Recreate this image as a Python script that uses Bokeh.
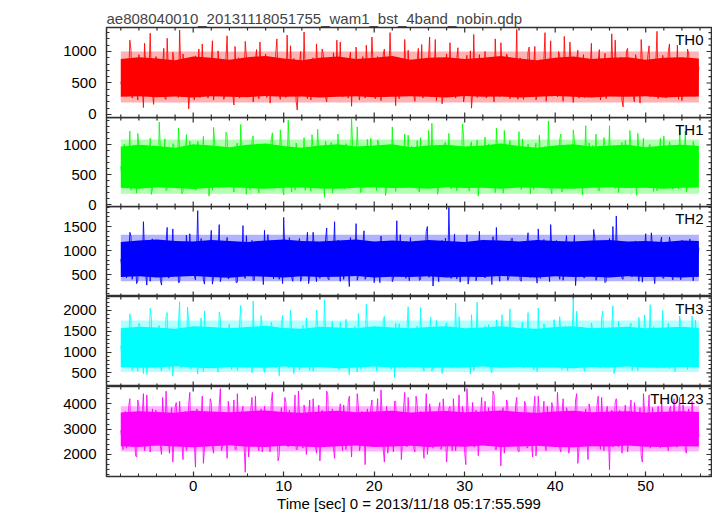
import math
import numpy as np
from bokeh.plotting import figure
from bokeh.layouts import column
from bokeh.models import Range1d, FixedTicker, LinearAxis, Label
from bokeh.embed import file_html
from bokeh.resources import INLINE

title_text = "ae808040010_20131118051755_wam1_bst_4band_nobin.qdp"
x_label = "Time [sec] 0 = 2013/11/18 05:17:55.599"
y_label = "Counts/sec"
bands = ["TH0", "TH1", "TH2", "TH3", "TH0123"]
colors = ["#ff0000", "#00ff00", "#0000ff", "#00ffff", "#ff00ff"]

# light curve samples: "*" at t_start + k*t_bin, "*_mid" half a bin later
t_start = -8.0
t_bin = 0.25

th0 = [
    520, 310, 840, 450, 1180, 260, 690, 380, 950, 540, 110, 760, 430, 1290, 350, 620,
    880, 300, 560, 1050, 240, 710, 470, 990, 330, 640, 1340, 280, 530, 820, 90, 660,
    410, 930, 580, 270, 1120, 480, 720, 350, 860, 230, 600, 1010, 390, 680, 300, 1250,
    460, 780, 150, 570, 900, 340, 650, 1160, 290, 510, 830, 420, 1030, 250, 700, 380,
    960, 530, 180, 740, 440, 1200, 320, 610, 870, 270, 560, 1090, 400, 690, 70, 810,
    500, 1310, 360, 620, 230, 900, 470, 760, 310, 1040, 550, 200, 680, 420, 980, 330,
    590, 1150, 280, 730, 450, 860, 130, 640, 1070, 370, 520, 920, 260, 710, 490, 1230,
    340, 600, 810, 220, 950, 430, 680, 1300, 300, 560, 770, 250, 880, 470, 620, 1020,
    380, 700, 210, 850, 540, 1110, 330, 640, 900, 280, 490, 1190, 420, 730, 170, 610,
    960, 350, 560, 820, 260, 1060, 480, 690, 310, 940, 580, 100, 1270, 440, 750, 360,
    620, 1000, 290, 540, 870, 200, 710, 460, 1140, 330, 600, 910, 250, 680, 430, 1350,
    510, 780, 240, 650, 990, 370, 560, 1080, 300, 720, 450, 860, 210, 610, 1170, 390,
    700, 280, 930, 520, 1240, 340, 630, 810, 190, 570, 1020, 410, 740, 270, 890, 480,
    1130, 320, 600, 840, 230, 690, 970, 380, 540, 1280, 300, 660, 450, 910, 120, 580,
    1050, 420, 760, 200, 870, 530, 1190, 350, 620, 950, 280, 710, 470, 1320, 390, 580,
    830, 260, 1000, 490, 670, 310, 1100, 560, 220, 790, 430, 960, 340, 640, 880, 500,
]
th0_mid = [
    430, 870, 290, 660, 1020, 350, 580, 230, 790, 470, 1130, 320, 690, 540, 160, 920,
    610, 380, 760, 250, 1210, 490, 330, 850, 560, 270, 720, 960, 410, 640, 350, 880,
    230, 700, 1040, 380, 520, 890, 260, 610, 1170, 440, 310, 780, 560, 240, 920, 470,
    680, 330, 1080, 410, 260, 740, 520, 930, 370, 620, 200, 870, 480, 1150, 320, 590,
    270, 810, 640, 360, 980, 550, 240, 720, 450, 1260, 330, 670, 890, 210, 580, 1000,
    420, 690, 250, 870, 560, 330, 1120, 410, 640, 950, 280, 500, 780, 350, 610, 1180,
    460, 320, 870, 560, 260, 990, 700, 390, 580, 230, 830, 470, 1100, 330, 640, 800,
    250, 920, 530, 380, 1040, 290, 600, 770, 440, 140, 860, 590, 340, 1190, 480, 690,
    820, 300, 570, 1050, 400, 260, 760, 510, 1230, 360, 640, 220, 900, 570, 330, 780,
    480, 1140, 310, 650, 890, 380, 540, 200, 830, 610, 1010, 350, 560, 270, 950, 460,
    730, 260, 880, 470, 350, 1200, 590, 280, 760, 420, 960, 530, 300, 820, 640, 240,
    900, 410, 650, 310, 1070, 500, 760, 230, 590, 870, 360, 1300, 450, 680, 290, 830,
    350, 1000, 480, 210, 790, 600, 1150, 370, 480, 880, 260, 640, 950, 330, 560, 760,
    280, 860, 520, 1030, 380, 620, 250, 830, 470, 690, 1180, 340, 560, 230, 800, 1010,
    390, 640, 290, 950, 540, 180, 870, 460, 730, 1090, 320, 590, 840, 250, 680, 940,
    370, 580, 1120, 300, 760, 520, 240, 890, 610, 370, 1040, 480, 700, 290, 560, 760,
]

th1 = [
    640, 280, 910, 470, 1230, 350, 720, 190, 980, 560, 310, 830, 430, 1110, 260, 690,
    520, 1380, 340, 760, 230, 880, 450, 1020, 300, 610, 940, 180, 700, 1170, 390, 580,
    850, 240, 1060, 500, 730, 320, 990, 140, 620, 1290, 410, 770, 280, 900, 530, 1150,
    360, 680, 210, 940, 570, 1340, 300, 650, 820, 250, 1080, 460, 710, 190, 880, 420,
    1000, 330, 590, 1200, 270, 760, 510, 960, 160, 640, 1410, 380, 700, 240, 850, 550,
    310, 1120, 480, 790, 220, 930, 600, 1260, 350, 680, 120, 870, 440, 1040, 290, 620,
    1180, 400, 720, 260, 990, 530, 1450, 300, 660, 840, 200, 750, 470, 1090, 340, 580,
    910, 230, 1020, 460, 700, 150, 860, 590, 1300, 370, 640, 960, 280, 740, 500, 1160,
    320, 810, 570, 1070, 210, 690, 940, 410, 1240, 300, 620, 880, 170, 730, 480, 1010,
    380, 1190, 260, 770, 540, 920, 330, 1350, 450, 680, 230, 1050, 510, 790, 140, 860,
    620, 1130, 290, 710, 970, 360, 1280, 440, 600, 190, 900, 560, 1070, 310, 750, 480,
    1220, 250, 830, 540, 1010, 180, 680, 940, 400, 1160, 320, 740, 600, 1400, 270, 650,
    880, 430, 1090, 210, 720, 510, 960, 350, 1250, 280, 630, 850, 160, 780, 470, 1030,
    340, 690, 1180, 240, 810, 560, 990, 390, 1320, 300, 620, 920, 200, 740, 450, 1070,
    570, 1240, 330, 800, 150, 900, 480, 1110, 290, 680, 1000, 410, 760, 230, 870, 540,
    1150, 310, 720, 960, 260, 840, 500, 1290, 370, 650, 210, 910, 440, 1060, 330, 700,
]
th1_mid = [
    450, 1010, 330, 760, 240, 880, 560, 1190, 380, 700, 290, 950, 520, 170, 820, 640,
    300, 910, 580, 1100, 260, 730, 470, 990, 350, 1280, 620, 220, 840, 500, 1060, 380,
    710, 270, 960, 540, 1140, 330, 800, 610, 240, 1020, 450, 870, 310, 690, 1210, 520,
    880, 410, 620, 1030, 290, 760, 480, 170, 930, 570, 1150, 350, 720, 980, 260, 640,
    430, 860, 1090, 320, 690, 540, 1250, 280, 780, 450, 940, 210, 660, 1030, 380, 820,
    580, 240, 970, 440, 1170, 350, 720, 890, 270, 610, 1060, 480, 800, 190, 930, 520,
    360, 830, 560, 1020, 290, 680, 950, 410, 1300, 550, 230, 870, 640, 340, 1110, 470,
    720, 1080, 340, 590, 880, 260, 1000, 450, 740, 220, 960, 610, 370, 1180, 530, 810,
    980, 420, 660, 250, 1120, 530, 770, 320, 900, 1360, 470, 690, 280, 840, 580, 1040,
    300, 750, 970, 460, 230, 880, 610, 1150, 390, 720, 980, 310, 590, 1080, 420, 660,
    840, 350, 1010, 540, 770, 200, 930, 480, 680, 1240, 360, 820, 560, 290, 960, 630,
    410, 1100, 300, 700, 880, 470, 250, 1030, 590, 810, 340, 970, 520, 730, 180, 890,
    620, 330, 1180, 490, 760, 270, 960, 580, 1070, 350, 690, 910, 440, 1320, 290, 750,
    990, 420, 640, 230, 870, 1120, 380, 700, 520, 950, 270, 810, 610, 1040, 360, 560,
    280, 930, 720, 400, 1190, 550, 830, 310, 650, 1000, 460, 220, 880, 580, 1110, 390,
    760, 500, 1050, 340, 680, 920, 260, 790, 560, 1230, 420, 700, 300, 960, 540, 820,
]

th2 = [
    820, 450, 1120, 600, 1380, 400, 930, 310, 1050, 680, 1600, 500, 870, 360, 1240, 720,
    520, 990, 280, 840, 1170, 430, 760, 1450, 550, 920, 340, 1090, 640, 1320, 470, 800,
    1010, 390, 1830, 580, 880, 300, 1160, 690, 1420, 460, 830, 1020, 350, 940, 610, 1270,
    440, 780, 1090, 330, 960, 550, 1520, 420, 870, 700, 1210, 380, 820, 600, 1060, 290,
    730, 1330, 480, 910, 640, 1150, 400, 850, 1690, 520, 770, 1030, 360, 950, 560, 1250,
    450, 820, 1100, 310, 760, 1380, 570, 900, 420, 1040, 680, 1470, 390, 810, 990, 540,
    1220, 360, 870, 620, 1080, 250, 940, 720, 1560, 480, 830, 1130, 400, 760, 990, 580,
    330, 1040, 690, 1300, 470, 880, 600, 1180, 350, 910, 1620, 530, 790, 1000, 420, 860,
    1270, 510, 740, 970, 380, 1110, 640, 1400, 450, 820, 260, 1060, 580, 930, 1210, 490,
    780, 1900, 420, 890, 660, 1140, 340, 970, 560, 1330, 480, 800, 1050, 370, 910, 640,
    1190, 430, 860, 1000, 290, 770, 1480, 550, 920, 640, 1120, 380, 830, 1260, 500, 710,
    960, 360, 1090, 610, 1370, 440, 800, 1010, 320, 940, 700, 1230, 470, 860, 1540, 560,
    750, 1080, 400, 890, 650, 1310, 480, 820, 1020, 270, 960, 590, 1180, 430, 780, 1100,
    520, 1440, 380, 900, 690, 1060, 330, 840, 1250, 470, 760, 1720, 560, 910, 400, 1030,
    640, 1170, 450, 830, 1000, 360, 920, 600, 1350, 480, 780, 1090, 310, 870, 690, 1280,
    420, 950, 720, 1140, 390, 840, 1020, 560, 1210, 460, 880, 650, 1070, 370, 920, 780,
]
th2_mid = [
    640, 1050, 430, 900, 1300, 520, 760, 370, 1140, 610, 980, 280, 850, 1220, 490, 720,
    1090, 380, 820, 570, 1480, 440, 930, 690, 1160, 330, 790, 1020, 510, 870, 1350, 600,
    470, 960, 720, 1250, 390, 840, 580, 1110, 300, 920, 650, 1540, 480, 780, 1010, 410,
    1180, 560, 890, 340, 1060, 730, 460, 1310, 620, 950, 380, 830, 1190, 540, 700, 1420,
    500, 870, 1120, 410, 760, 1030, 580, 310, 990, 660, 1270, 450, 820, 590, 1150, 360,
    910, 620, 1380, 470, 800, 1090, 350, 720, 1000, 540, 1230, 420, 880, 670, 1600, 490,
    760, 1130, 400, 940, 610, 1270, 500, 830, 380, 1050, 720, 1410, 460, 890, 580, 1160,
    640, 990, 330, 860, 1190, 520, 750, 1080, 420, 900, 610, 1330, 480, 780, 1020, 370,
    880, 540, 1200, 690, 400, 1060, 780, 1500, 450, 930, 620, 1110, 350, 840, 700, 1260,
    520, 960, 720, 1340, 410, 810, 1070, 580, 890, 300, 1180, 650, 950, 480, 1400, 730,
    600, 1020, 470, 880, 1290, 550, 760, 360, 1110, 690, 970, 430, 1230, 580, 840, 1060,
    390, 910, 650, 1170, 480, 790, 1030, 560, 1450, 420, 870, 680, 1120, 350, 990, 760,
    1210, 540, 830, 380, 1090, 700, 960, 470, 1320, 610, 880, 1150, 440, 780, 560, 1040,
    680, 1260, 450, 900, 620, 1080, 360, 970, 730, 1500, 510, 820, 1010, 420, 940, 640,
    1130, 480, 860, 1200, 570, 750, 340, 1050, 660, 920, 1370, 500, 800, 620, 1160, 430,
    890, 600, 1280, 470, 970, 710, 1100, 390, 850, 1030, 560, 1240, 680, 900, 450, 1060,
]

th3 = [
    1150, 620, 1580, 850, 1920, 560, 1320, 720, 1700, 980, 480, 1450, 800, 2050, 660, 1230,
    900, 1640, 540, 1180, 1860, 700, 1370, 420, 1520, 1010, 2210, 680, 1260, 830, 1730, 590,
    1080, 1490, 470, 1290, 920, 1990, 630, 1160, 1580, 760, 1340, 520, 1810, 970, 1220, 690,
    1670, 580, 1100, 1420, 800, 2120, 650, 1250, 940, 1600, 500, 1180, 1470, 760, 1880, 610,
    1030, 1390, 700, 1560, 880, 1240, 430, 1700, 990, 1350, 620, 2000, 840, 1150, 1530, 570,
    1290, 760, 1820, 940, 1410, 540, 1130, 1640, 690, 1280, 2260, 810, 1060, 1490, 610, 1350,
    890, 1720, 650, 1200, 1530, 450, 1090, 1380, 780, 1930, 600, 1270, 1010, 1600, 720, 1160,
    1470, 550, 1240, 910, 1780, 680, 1330, 1050, 1550, 390, 1190, 1680, 830, 1400, 640, 2090,
    970, 1310, 720, 1620, 880, 1200, 540, 1450, 1070, 1840, 660, 1290, 950, 1570, 480, 1130,
    1710, 790, 1260, 1020, 2180, 610, 1360, 870, 1510, 700, 1170, 1900, 560, 1250, 990, 1440,
    730, 1620, 1040, 1380, 500, 1210, 1770, 820, 1320, 640, 1490, 1100, 2040, 690, 1160, 1420,
    860, 1540, 620, 1260, 1950, 750, 1080, 1410, 530, 1300, 900, 1680, 720, 1190, 1560, 640,
    1370, 980, 1850, 580, 1230, 1480, 800, 1110, 2300, 670, 1340, 960, 1600, 540, 1270, 1090,
    1700, 740, 1180, 1450, 620, 1990, 870, 1300, 1050, 1560, 480, 1220, 1740, 810, 1370, 700,
    1160, 1620, 560, 1280, 940, 1830, 680, 1210, 1480, 760, 2140, 900, 1330, 610, 1570, 1020,
    1250, 700, 1690, 1080, 1400, 530, 1190, 1860, 770, 1350, 990, 1520, 640, 1260, 1770, 910,
]
th3_mid = [
    860, 1480, 640, 1250, 1740, 720, 1100, 540, 1620, 930, 1360, 460, 1190, 1840, 780, 1300,
    1560, 650, 1210, 990, 1950, 580, 1380, 820, 1150, 1700, 610, 1280, 920, 2080, 700, 1170,
    1440, 760, 1050, 1820, 530, 1230, 960, 1590, 690, 1340, 1080, 1960, 600, 1270, 850, 1510,
    740, 1400, 1130, 560, 1690, 880, 1310, 640, 1480, 1010, 2230, 720, 1200, 940, 1600, 510,
    1320, 830, 1720, 1040, 620, 1430, 1150, 1880, 690, 1260, 930, 1550, 480, 1180, 1390, 760,
    1640, 930, 1240, 560, 1510, 1090, 2010, 710, 1330, 860, 1470, 640, 1200, 1740, 900, 1120,
    580, 1380, 1020, 1790, 740, 1280, 950, 1620, 520, 1160, 1450, 830, 2150, 690, 1230, 1010,
    1500, 790, 1300, 670, 1860, 1060, 1380, 590, 1210, 1690, 870, 1430, 1100, 620, 1570, 950,
    1270, 700, 1540, 1010, 2070, 640, 1320, 890, 1480, 540, 1180, 1760, 820, 1360, 1050, 1630,
    900, 1450, 620, 1290, 1080, 1850, 730, 1240, 960, 1580, 470, 1340, 1020, 2200, 800, 1190,
    1400, 850, 1660, 580, 1230, 990, 1510, 700, 1900, 1120, 640, 1370, 920, 1600, 760, 1280,
    1070, 1720, 680, 1350, 900, 1480, 570, 1260, 2060, 810, 1190, 1550, 650, 1310, 1000, 1780,
    720, 1240, 1460, 860, 1630, 550, 1170, 1390, 780, 1980, 930, 1300, 620, 1490, 1110, 840,
    1560, 970, 1280, 640, 1820, 1060, 730, 1420, 1190, 2110, 600, 1250, 880, 1540, 710, 1360,
    1020, 1700, 790, 1330, 560, 1470, 1150, 1890, 680, 1260, 970, 1610, 740, 1390, 1090, 2000,
    850, 1320, 600, 1560, 1010, 1280, 720, 1690, 940, 1410, 580, 1230, 1870, 830, 1350, 1000,
]

th0123 = [
    2950, 2200, 3700, 2500, 4200, 2300, 3300, 1900, 3900, 2700, 4400, 2400, 3100, 2100, 3800, 2800,
    2350, 3600, 2000, 3250, 4500, 2600, 3450, 1700, 3850, 2750, 4100, 2450, 3350, 2150, 3950, 2550,
    3150, 1500, 3750, 2650, 4300, 2250, 3550, 2900, 4050, 2050, 3400, 2700, 4600, 2350, 3200, 1850,
    3650, 2500, 4150, 2200, 3300, 2800, 3900, 1300, 3500, 2600, 4250, 2400, 3050, 2150, 3800, 2750,
    2450, 3700, 2100, 4450, 2650, 3350, 1950, 3850, 2850, 4050, 2300, 3250, 2550, 4350, 2200, 3450,
    2700, 3950, 2000, 3550, 2500, 4200, 2350, 3150, 1750, 3750, 2900, 4500, 2450, 3400, 2250, 3650,
    2800, 4000, 2150, 3300, 2600, 4300, 1900, 3600, 2700, 3900, 2400, 3200, 1600, 3800, 2550, 4150,
    2300, 3450, 2750, 4550, 2200, 3350, 2050, 3700, 2650, 4100, 2450, 3250, 1800, 3850, 2900, 4250,
    2400, 3550, 2100, 3950, 2700, 3300, 1850, 4400, 2550, 3650, 2250, 3150, 2800, 4050, 2350, 3500,
    1700, 3800, 2600, 4200, 2150, 3400, 2750, 3900, 2050, 4600, 2500, 3250, 2300, 3750, 1950, 3600,
    2850, 4100, 2400, 3350, 2650, 4350, 2200, 3500, 1550, 3850, 2700, 4000, 2350, 3200, 2550, 4250,
    2100, 3650, 2800, 3950, 2300, 3400, 1900, 4300, 2600, 3550, 2450, 4100, 2150, 3300, 2750, 3800,
    2500, 4450, 2250, 3600, 2900, 3850, 2050, 3450, 2650, 4150, 1650, 3700, 2400, 3250, 2800, 4000,
    2350, 3550, 2700, 4300, 2200, 3350, 2550, 3900, 1400, 3750, 2850, 4200, 2300, 3450, 2600, 3950,
    2100, 3700, 2750, 4050, 2450, 3300, 1950, 4400, 2650, 3600, 2250, 3850, 2900, 3250, 2400, 4150,
    2550, 3500, 2150, 3900, 2800, 3400, 2300, 4250, 2600, 3650, 2050, 3800, 2700, 3350, 2450, 3600,
]
th0123_mid = [
    2600, 3450, 2250, 3900, 2750, 3200, 1950, 4150, 2500, 3600, 2150, 4350, 2850, 3300, 2400, 3750,
    3050, 2300, 4250, 2700, 3500, 2050, 3850, 2550, 4050, 2900, 3350, 1800, 3700, 2450, 4450, 2800,
    2400, 3800, 2950, 3350, 1650, 3650, 2650, 4200, 2300, 3500, 2800, 3950, 2150, 3250, 2700, 4100,
    2900, 3400, 2200, 4400, 2600, 3700, 2350, 3150, 1900, 3850, 2750, 4300, 2450, 3550, 2100, 3900,
    3250, 2500, 4100, 2800, 3600, 1750, 3450, 2650, 4250, 2350, 3750, 2950, 3300, 2200, 4500, 2600,
    2250, 3650, 2850, 4150, 2400, 3350, 2050, 3950, 2700, 3500, 2300, 4350, 2550, 3800, 1850, 3400,
    3500, 2650, 3950, 2200, 4050, 2800, 3250, 2450, 4400, 2150, 3700, 2900, 3400, 2350, 3850, 2600,
    2750, 4200, 2400, 3550, 1700, 3900, 2650, 3300, 2100, 4100, 2850, 3600, 2500, 4450, 2300, 3450,
    3150, 2250, 4300, 2800, 3700, 2450, 3250, 2000, 4000, 2600, 3450, 2950, 3800, 2200, 4200, 2700,
    2500, 3900, 2150, 3350, 2850, 4350, 2400, 3600, 1600, 3750, 2700, 4050, 2300, 3500, 2650, 4250,
    3000, 2350, 3850, 2600, 4500, 2200, 3400, 2900, 3700, 2050, 4150, 2550, 3300, 2800, 3950, 2150,
    3600, 2700, 4100, 2250, 3450, 2500, 3800, 1950, 4300, 2850, 3350, 2400, 3900, 2650, 4050, 2300,
    2800, 3550, 2100, 4200, 2600, 3650, 2350, 3250, 2950, 4400, 2200, 3500, 2750, 3800, 1800, 3700,
    3300, 2450, 3950, 2700, 4250, 2150, 3600, 2850, 3400, 2300, 4050, 2600, 3750, 2050, 3450, 2900,
    2550, 4150, 2350, 3550, 2800, 3850, 1700, 3650, 2650, 4350, 2450, 3300, 2900, 3900, 2250, 3500,
    3100, 2400, 3800, 2750, 4200, 2300, 3550, 2600, 3950, 2150, 3400, 2850, 4100, 2500, 3650, 2700,
]

# densely over-plotted core of each curve (lower / upper edge), read every core_step seconds
core_step = 2.0
core_lo_th0 = [280, 290, 275, 285, 270, 290, 280, 275, 295, 280, 285, 270, 280, 290, 275, 280,
               290, 280, 270, 295, 280, 285, 270, 280, 295, 280, 270, 285, 280, 290, 270, 280, 285]
core_hi_th0 = [880, 910, 890, 860, 920, 900, 870, 910, 930, 890, 860, 900, 920, 880, 900, 930,
               870, 900, 910, 880, 900, 930, 890, 860, 900, 920, 880, 900, 910, 870, 900, 910, 890]
core_lo_th1 = [280, 265, 290, 275, 260, 280, 290, 275, 265, 280, 285, 270, 265, 280, 290, 275,
               280, 265, 290, 275, 280, 265, 285, 280, 270, 265, 280, 290, 275, 280, 265, 280, 285]
core_hi_th1 = [970, 1000, 980, 950, 1010, 990, 960, 1000, 1020, 980, 950, 990, 1010, 970, 990, 1010,
               960, 990, 1000, 970, 990, 1020, 980, 950, 990, 1010, 970, 990, 1000, 960, 990, 1000, 980]
core_lo_th2 = [450, 465, 440, 455, 470, 450, 435, 465, 455, 440, 465, 450, 455, 470, 440, 455,
               450, 465, 440, 455, 450, 470, 455, 440, 465, 450, 455, 440, 465, 450, 455, 440, 455]
core_hi_th2 = [1180, 1210, 1230, 1200, 1190, 1220, 1200, 1180, 1210, 1230, 1200, 1190, 1210, 1230, 1190, 1210,
               1190, 1220, 1200, 1180, 1220, 1210, 1190, 1220, 1200, 1190, 1210, 1220, 1190, 1200, 1180, 1210, 1200]
core_lo_th3 = [640, 620, 630, 655, 625, 610, 640, 630, 620, 650, 625, 640, 610, 630, 650, 625,
               640, 620, 630, 625, 650, 620, 640, 625, 630, 610, 640, 625, 650, 630, 620, 640, 630]
core_hi_th3 = [1570, 1610, 1590, 1560, 1620, 1600, 1570, 1600, 1630, 1580, 1560, 1610, 1590, 1570, 1620, 1590,
               1570, 1600, 1620, 1570, 1590, 1620, 1580, 1560, 1600, 1620, 1570, 1590, 1610, 1570, 1590, 1610, 1580]
core_lo_th0123 = [2330, 2300, 2350, 2320, 2290, 2330, 2360, 2310, 2300, 2340, 2320, 2290, 2330, 2350, 2300, 2320,
                  2340, 2300, 2330, 2310, 2350, 2300, 2320, 2340, 2300, 2290, 2330, 2320, 2350, 2310, 2300, 2330, 2320]
core_hi_th0123 = [3660, 3710, 3680, 3650, 3730, 3700, 3670, 3710, 3740, 3680, 3650, 3700, 3730, 3670, 3700, 3730,
                  3660, 3700, 3720, 3670, 3700, 3740, 3680, 3650, 3700, 3730, 3670, 3700, 3710, 3660, 3690, 3710, 3680]

# thinner, partly covered fringe around the core (lower, upper)
fringe = [(190, 1000), (180, 1090), (360, 1330), (520, 1760), (2120, 3900)]

series = [(th0, th0_mid), (th1, th1_mid), (th2, th2_mid), (th3, th3_mid), (th0123, th0123_mid)]
cores = [(core_lo_th0, core_hi_th0), (core_lo_th1, core_hi_th1), (core_lo_th2, core_hi_th2),
         (core_lo_th3, core_hi_th3), (core_lo_th0123, core_hi_th0123)]
y_ranges = [(-48, 1381), (-33, 1457), (42, 1917), (170, 2337), (1132, 4682)]
y_major_ticks = [[0, 500, 1000], [0, 500, 1000], [500, 1000, 1500],
                 [500, 1000, 1500, 2000], [2000, 3000, 4000]]
y_minor_steps = [100, 100, 100, 100, 200]
x_range_vals = (-9.58, 57.27)
x_major_ticks = [0, 10, 20, 30, 40, 50]
x_minor_step = 2

FONT = "Liberation Sans"
FRAME_COLOR = "#303030"
frame_heights = [90, 89, 90, 90, 90]
FRAME_W = 605
SPILL = 7          # room under panels whose lowest tick label sits on the bottom edge


def minor_list(lo, hi, step, majors):
    start = math.ceil(lo / step) * step
    return [float(v) for v in np.arange(start, hi, step) if not any(abs(v - m) < 1e-9 for m in majors)]


x_minor_ticks = minor_list(x_range_vals[0], x_range_vals[1], x_minor_step, x_major_ticks)

xr = Range1d(*x_range_vals)
figs = []
n = len(series)
spills = []
for i in range(n):
    lo, hi = y_ranges[i]
    px_per_unit = frame_heights[i] / (hi - lo)
    low_label_px = (min(y_major_ticks[i]) - lo) * px_per_unit
    spills.append(i < n - 1 and low_label_px < 9)

for i in range(n):
    a, b = series[i]
    m_len = min(len(a), len(b))
    va = np.array(a[:m_len], dtype=float)
    vb = np.array(b[:m_len], dtype=float)
    ta = t_start + t_bin * np.arange(m_len)
    tb = ta + t_bin / 2
    t = np.column_stack([ta, tb]).ravel()
    vals = np.column_stack([va, vb]).ravel()
    c_len = min(len(cores[i][0]), len(cores[i][1]))
    c_lo = np.array(cores[i][0][:c_len], dtype=float)
    c_hi = np.array(cores[i][1][:c_len], dtype=float)
    tc = np.minimum(t_start + core_step * np.arange(c_len), t[-1])
    last = (i == n - 1)
    first = (i == 0)
    lo, hi = y_ranges[i]
    majors = y_major_ticks[i]
    minors = minor_list(lo, hi, y_minor_steps[i], majors)
    p = figure(
        frame_width=FRAME_W, frame_height=frame_heights[i],
        x_range=xr, y_range=Range1d(lo, hi),
        output_backend="svg", toolbar_location=None,
        x_axis_location=None, y_axis_location=None,
        min_border_left=106, min_border_right=1,
        min_border_top=27 if first else 0,
        min_border_bottom=SPILL if spills[i] else 0,
        title=title_text if first else None,
        background_fill_color=None, border_fill_color=None,
    )
    if i > 0 and spills[i - 1]:
        p.margin = (-SPILL, 0, 0, 0)
    if first:
        p.title.text_font = FONT
        p.title.text_font_size = "15px"
        p.title.text_font_style = "normal"
        p.title.align = "left"
        p.title.standoff = 2
        p.title.offset = 0
    p.xgrid.visible = False
    p.ygrid.visible = False
    p.outline_line_color = FRAME_COLOR
    p.outline_line_width = 1.5
    p.outline_line_alpha = 1.0

    yl = LinearAxis(ticker=FixedTicker(ticks=majors, minor_ticks=minors))
    yl.axis_line_color = None
    yl.major_tick_in = 5
    yl.major_tick_out = 0
    yl.minor_tick_in = 3
    yl.minor_tick_out = 0
    yl.major_tick_line_color = FRAME_COLOR
    yl.minor_tick_line_color = FRAME_COLOR
    yl.major_tick_line_width = 1.2
    yl.major_label_text_font = FONT
    yl.major_label_text_font_size = "15px"
    yl.major_label_text_color = "black"
    yl.major_label_standoff = 10
    p.add_layout(yl, "left")

    # inward tick marks on the other frame edges (half of each dash is clipped away)
    tick_kw = dict(marker="dash", line_color=FRAME_COLOR, line_width=1.2)
    p.scatter([x_range_vals[1]] * len(majors), majors, size=10, **tick_kw)
    p.scatter([x_range_vals[1]] * len(minors), minors, size=6, **tick_kw)
    p.scatter(x_major_ticks, [hi] * len(x_major_ticks), size=10, angle=math.pi / 2, **tick_kw)
    p.scatter(x_minor_ticks, [hi] * len(x_minor_ticks), size=6, angle=math.pi / 2, **tick_kw)

    if last:
        xb = LinearAxis(ticker=FixedTicker(ticks=x_major_ticks, minor_ticks=x_minor_ticks))
        xb.axis_line_color = None
        xb.major_tick_in = 5
        xb.major_tick_out = 0
        xb.minor_tick_in = 3
        xb.minor_tick_out = 0
        xb.major_tick_line_color = FRAME_COLOR
        xb.minor_tick_line_color = FRAME_COLOR
        xb.major_tick_line_width = 1.2
        xb.major_label_text_font = FONT
        xb.major_label_text_font_size = "15px"
        xb.major_label_text_color = "black"
        xb.major_label_standoff = 4
        xb.axis_label = x_label
        xb.axis_label_text_font = FONT
        xb.axis_label_text_font_size = "15px"
        xb.axis_label_text_font_style = "normal"
        xb.axis_label_text_color = "black"
        xb.axis_label_standoff = 1
        p.add_layout(xb, "below")
    else:
        p.scatter(x_major_ticks, [lo] * len(x_major_ticks), size=10, angle=math.pi / 2, **tick_kw)
        p.scatter(x_minor_ticks, [lo] * len(x_minor_ticks), size=6, angle=math.pi / 2, **tick_kw)

    f_lo, f_hi = fringe[i]
    p.varea(x=[t[0], t[-1]], y1=[f_lo, f_lo], y2=[f_hi, f_hi], fill_color=colors[i], fill_alpha=0.3)
    p.varea(x=tc, y1=c_lo, y2=c_hi, fill_color=colors[i], fill_alpha=1.0)
    p.line(t, vals, line_color=colors[i], line_width=1.0, line_alpha=0.85)

    p.add_layout(Label(
        x=x_range_vals[1], y=hi, x_offset=-8, y_offset=-3,
        text=bands[i], text_align="right", text_baseline="top",
        text_font=FONT, text_font_size="15px", text_color="black",
    ))
    if i == 2:
        p.add_layout(Label(
            x=x_range_vals[0], y=hi - 0.59 * (hi - lo), x_offset=-66,
            text=y_label, angle=math.pi / 2, text_align="center",
            text_baseline="middle", text_font=FONT, text_font_size="15px",
            text_color="black",
        ))
    figs.append(p)

layout = column(*figs, spacing=0)
open("out.html", "w").write(file_html(layout, INLINE))
